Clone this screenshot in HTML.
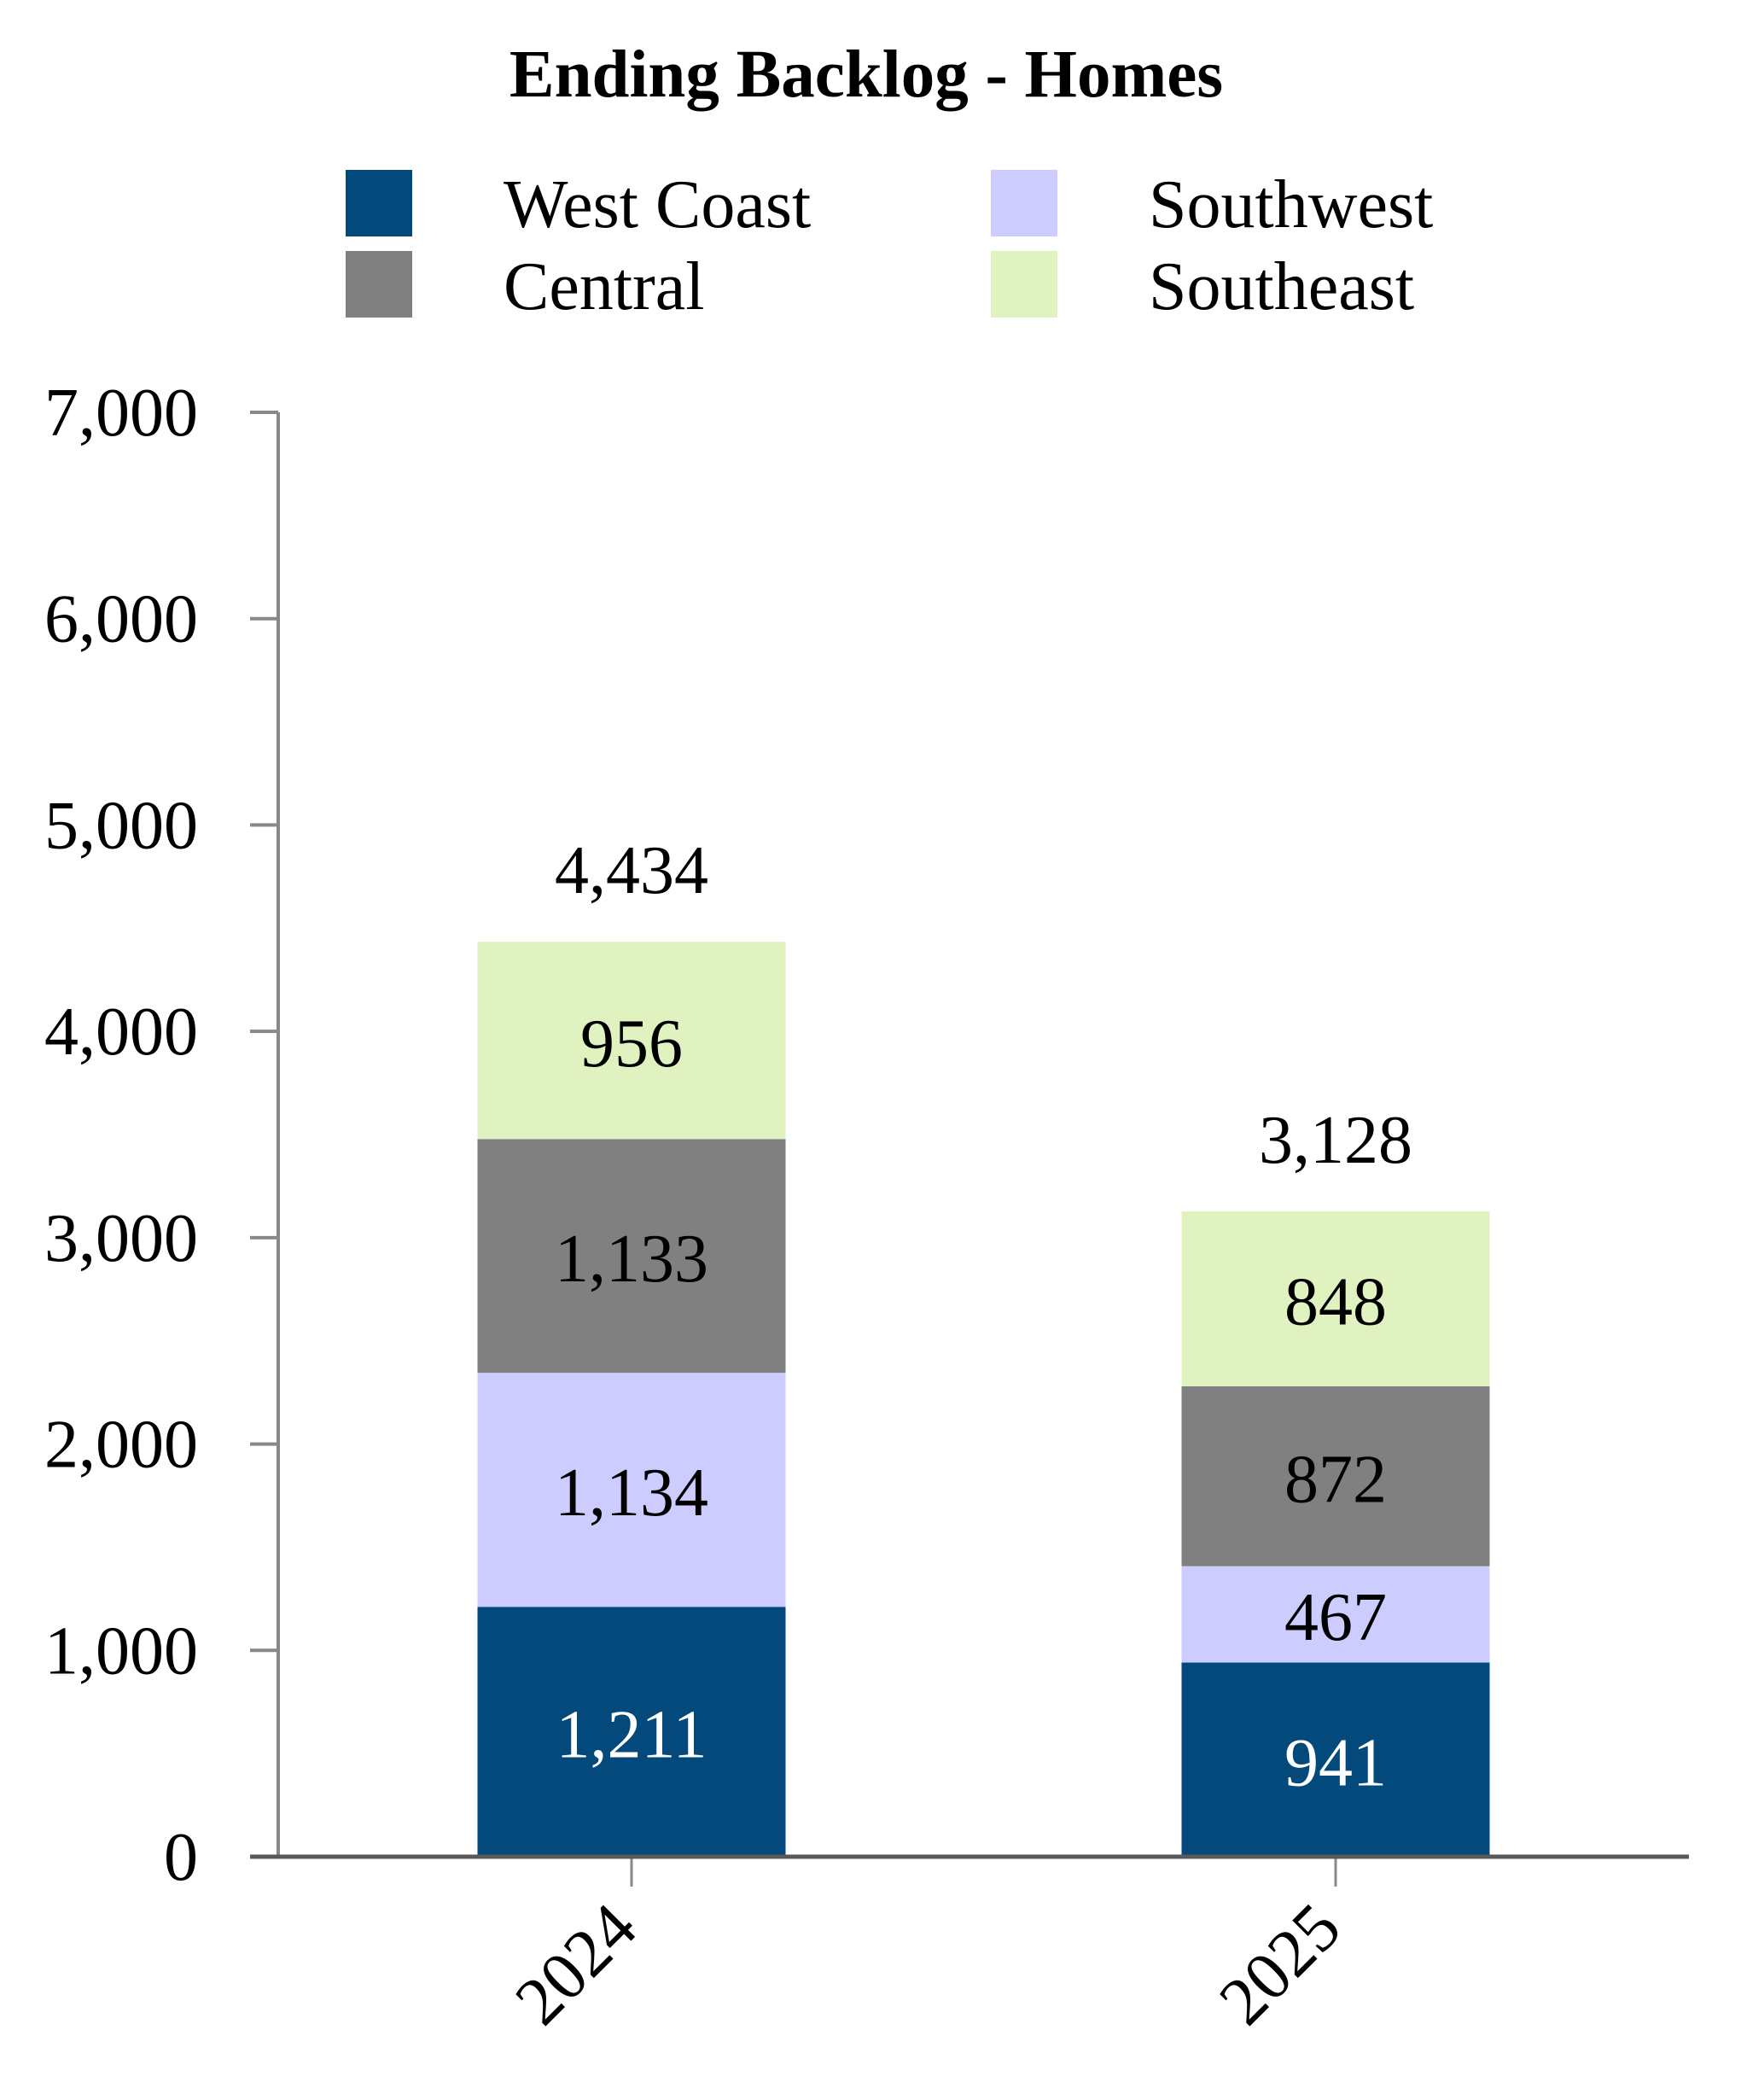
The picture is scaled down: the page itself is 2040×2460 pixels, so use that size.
<!DOCTYPE html>
<html><head><meta charset="utf-8"><style>
html,body{margin:0;padding:0;background:#fff}
svg{display:block;font-family:"Liberation Serif",serif}
text{font-family:"Liberation Serif",serif}
</style></head><body>
<svg id="chart" width="2040" height="2460" viewBox="0 0 2040 2460" xmlns="http://www.w3.org/2000/svg">
<text x="1015" y="113" text-anchor="middle" font-size="79" font-weight="bold">Ending Backlog - Homes</text>
<g>
<rect x="405" y="199" width="78" height="78" fill="#03497C"/>
<text x="590" y="266" font-size="80">West Coast</text>
<rect x="405" y="294" width="78" height="78" fill="#808080"/>
<text x="590" y="362" font-size="80">Central</text>
<rect x="1161" y="199" width="78" height="78" fill="#CCCCFF"/>
<text x="1346" y="266" font-size="80">Southwest</text>
<rect x="1161" y="294" width="78" height="78" fill="#DFF2C0"/>
<text x="1346" y="362" font-size="80">Southeast</text>
</g>
<g id="plot"></g>
</svg>
<script>
const categories = ["2024", "2025"];
const westCoast = [1211, 941];
const southwest = [1134, 467];
const central = [1133, 872];
const southeast = [956, 848];
const totals = [4434, 3128];
const yTicks = [0, 1000, 2000, 3000, 4000, 5000, 6000, 7000];
const yTickLabels = ["0", "1,000", "2,000", "3,000", "4,000", "5,000", "6,000", "7,000"];

const NS = "http://www.w3.org/2000/svg";
const plot = document.getElementById("plot");
const x0 = 326, y0 = 2175, yTop = 483, yMax = 7000;
const xLeft = 293, xRight = 1979;
const barW = 361;
function yScale(v){ return y0 - (v / yMax) * (y0 - yTop); }
function xCenter(i){ return 740 + i * 825; }
function mk(tag, attrs){ const e = document.createElementNS(NS, tag); for (const k in attrs) e.setAttribute(k, attrs[k]); plot.appendChild(e); return e; }
function fmt(v){ return v.toLocaleString("en-US"); }

yTicks.forEach((t, i) => {
  const y = yScale(t);
  const tk = mk("line", {x1: xLeft, x2: x0, y1: y, y2: y, stroke: "#888", "stroke-width": 4});
  
  
  const lb = mk("text", {x: 232, y: y + 27, "text-anchor": "end", "font-size": 80});
  lb.textContent = yTickLabels[i];
  
  
});
const ya = mk("line", {x1: x0, x2: x0, y1: yTop, y2: y0, stroke: "#888", "stroke-width": 4});



const series = [
  {name: "west-coast", vals: westCoast, color: "#03497C", text: "#fff"},
  {name: "southwest", vals: southwest, color: "#CCCCFF", text: "#000"},
  {name: "central", vals: central, color: "#808080", text: "#000"},
  {name: "southeast", vals: southeast, color: "#DFF2C0", text: "#000"}
];
categories.forEach((c, i) => {
  let base = 0;
  const cx = xCenter(i);
  series.forEach(s => {
    const v = s.vals[i];
    const yt = yScale(base + v), yb = yScale(base);
    const r = mk("rect", {x: cx - barW / 2, y: yt, width: barW, height: yb - yt, fill: s.color});
    
    
    const t = mk("text", {x: cx, y: (yt + yb) / 2 + 30, "text-anchor": "middle", "font-size": 80, fill: s.text});
    t.textContent = fmt(v);
    
    
    base += v;
  });
  const tt = mk("text", {x: cx, y: yScale(totals[i]) - 57, "text-anchor": "middle", "font-size": 80});
  tt.textContent = fmt(totals[i]);
  
  
  const ct = mk("line", {x1: cx, x2: cx, y1: y0, y2: y0 + 35, stroke: "#888", "stroke-width": 3});
  
  
  const xl = mk("text", {x: cx + 10, y: y0 + 88, "text-anchor": "end", "font-size": 80, transform: "rotate(-45 " + (cx + 10) + " " + (y0 + 88) + ")"});
  xl.textContent = c;
  
  
});
const xa = mk("line", {x1: xLeft, x2: xRight, y1: y0, y2: y0, stroke: "#595959", "stroke-width": 5});


</script>
</body></html>
